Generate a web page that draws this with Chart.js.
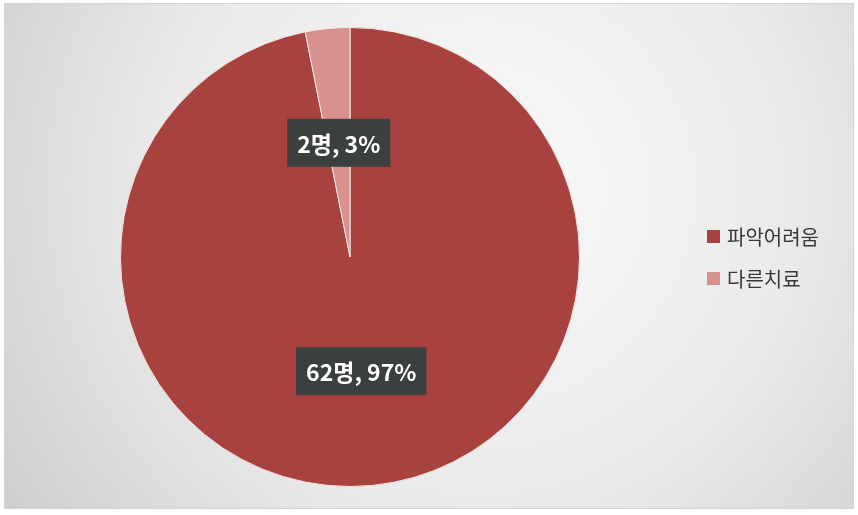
<!DOCTYPE html>
<html>
<head>
<meta charset="utf-8">
<script src="https://cdn.jsdelivr.net/npm/chart.js@4/dist/chart.umd.min.js"></script>
<style>
  html, body { margin: 0; padding: 0; background: #fff; }
  canvas { display: block; }
</style>
</head>
<body>
<canvas id="chart" width="858" height="515"></canvas>
<script>
const categories = ["파악어려움", "다른치료"]
const counts = [62, 2]
const percents = [97, 3]
const sliceColors = ["#a8423f", "#d8918f"]

const FONT = "'Noto Sans CJK KR', 'Noto Sans', sans-serif"

// gradient panel behind the pie, like the Excel chart area
const backdrop = {
  id: "backdrop",
  beforeDraw(chart) {
    const ctx = chart.ctx
    ctx.save()
    ctx.fillStyle = "#ffffff"
    ctx.fillRect(0, 0, chart.width, chart.height)
    const g = ctx.createRadialGradient(480, 190, 20, 480, 190, 560)
    g.addColorStop(0, "#f9f9f9")
    g.addColorStop(0.55, "#eaeaea")
    g.addColorStop(1, "#cfcfcf")
    ctx.fillStyle = g
    ctx.fillRect(4, 3, 849, 505)
    ctx.strokeStyle = "#d4d4d4"
    ctx.lineWidth = 1
    ctx.strokeRect(4.5, 3.5, 849, 505)
    ctx.restore()
  }
}

// dark boxed data labels at the middle of each slice
const sliceLabels = {
  id: "sliceLabels",
  afterDatasetsDraw(chart) {
    const ctx = chart.ctx
    const arcs = chart.getDatasetMeta(0).data
    ctx.save()
    ctx.font = "bold 23px " + FONT
    ctx.textAlign = "center"
    ctx.textBaseline = "middle"
    arcs.forEach((arc, i) => {
      const pos = arc.tooltipPosition()
      const text = counts[i] + "명, " + percents[i] + "%"
      const w = ctx.measureText(text).width + 20
      const h = 48
      ctx.fillStyle = "#3c3f3f"
      ctx.fillRect(pos.x - w / 2, pos.y - h / 2, w, h)
      ctx.fillStyle = "#ffffff"
      ctx.fillText(text, pos.x, pos.y + 1)
    })
    ctx.restore()
  }
}

// legend on the right, square markers
const sideLegend = {
  id: "sideLegend",
  afterDraw(chart) {
    const ctx = chart.ctx
    ctx.save()
    ctx.font = "20px " + FONT
    ctx.textBaseline = "middle"
    categories.forEach((name, i) => {
      const y = 237 + i * 42
      ctx.fillStyle = sliceColors[i]
      ctx.fillRect(707, y - 7, 13, 13)
      ctx.fillStyle = "#383838"
      ctx.fillText(name, 727, y)
    })
    ctx.restore()
  }
}

new Chart(document.getElementById("chart"), {
  type: "pie",
  data: {
    labels: categories,
    datasets: [{
      data: counts,
      backgroundColor: sliceColors,
      borderColor: "#f4e6e6",
      borderWidth: 1
    }]
  },
  options: {
    responsive: false,
    animation: false,
    layout: { padding: { left: 120, right: 278, top: 27, bottom: 28 } },
    plugins: {
      legend: { display: false },
      tooltip: { enabled: false }
    }
  },
  plugins: [backdrop, sliceLabels, sideLegend]
})
</script>
</body>
</html>
